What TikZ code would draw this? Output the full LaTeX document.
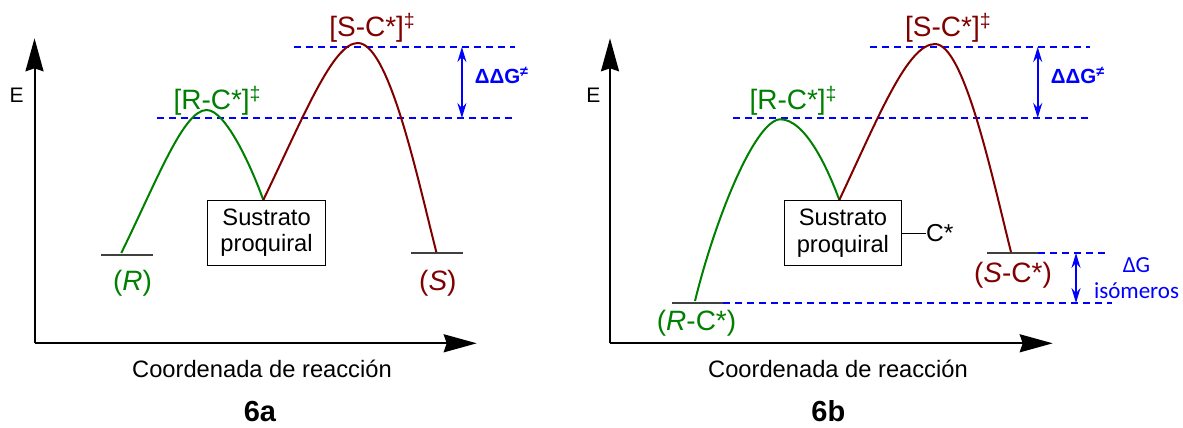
\documentclass[tikz,border=0pt]{standalone}
\usepackage{fontspec}
\setmainfont{Liberation Sans}
\newfontfamily\calfont{Carlito}
\usetikzlibrary{arrows.meta,positioning}
\definecolor{rgreen}{RGB}{0,128,0}
\definecolor{sred}{RGB}{128,0,0}
\definecolor{dblue}{RGB}{0,0,255}
\begin{document}
\begin{tikzpicture}[x=1pt,y=-1pt,
 ax/.style={line width=2pt,-{Stealth[length=33pt,width=18pt,inset=3pt]}},
 lvl/.style={line width=1.5pt,black!75},
 grc/.style={line width=2pt,rgreen},
 rdc/.style={line width=2pt,sred},
 dl/.style={draw=dblue,line width=1.4pt,dash pattern=on 7pt off 5pt},
 dd/.style={{Stealth[length=15pt,width=9pt,inset=5pt]}-{Stealth[length=15pt,width=9pt,inset=5pt]},line width=2pt,dblue},
 bx/.style={draw,line width=1.2pt,fill=white,align=center,minimum width=117.5pt,minimum height=65pt,inner sep=0pt,font=\fontsize{23.7}{26.7}\selectfont},
 lb/.style={anchor=base west,inner sep=0pt,font=\fontsize{28}{32}\selectfont},
 axl/.style={anchor=base west,inner sep=0pt,font=\fontsize{23.7}{27}\selectfont},
 el/.style={inner sep=0pt,font=\fontsize{21}{24}\selectfont},
 ttl/.style={anchor=base,inner sep=0pt,font=\fontsize{29}{32}\selectfont\bfseries},
 ddg/.style={anchor=base west,inner sep=0pt,text=dblue,font=\fontsize{20.5}{24}\selectfont\bfseries},
 dgl/.style={align=center,inner sep=0pt,text=dblue,font=\calfont\fontsize{23}{26.7}\selectfont}]
\useasboundingbox (0,0) rectangle (1183,428);
% 6a
\coordinate (aO) at (34.5,343.3);
\draw[ax] (aO) -- (34.5,38.3);
\draw[ax] (aO) -- (476.7,343.3);
\node[el] (aE) at (16.7,95) {E};
\node[axl] (axa) at (132,377) {Coordenada de reacción};
\node[ttl] (ta) at (260,421.5) {6a};
\coordinate (aR) at (121.3,253);
\coordinate (aTR) at (206.7,110);
\coordinate (aSub) at (263.3,200);
\coordinate (aTS) at (357.8,43);
\coordinate (aS) at (436.3,252);
\coordinate (aHi) at (461.9,47);
\coordinate (aLo) at (461.9,118);
\draw[dl] (294,47) -- (514.7,47);
\draw[dl] (157,118) -- (514.7,118);
\draw[dd] (aHi) -- (aLo);
\node[ddg] (ga) at (474.6,84) {ΔΔG\textsuperscript{≠}};
\draw[lvl] (101.4,255) -- (153.1,255);
\draw[lvl] (411.4,253) -- (463,253);
\draw[grc] (aR) .. controls (158,178) and (183.7,110) .. (aTR) .. controls (226.2,110) and (252.6,170) .. (aSub);
\draw[rdc] (aSub) .. controls (304.3,115) and (333,43) .. (aTS) .. controls (389.2,43) and (417.9,180) .. (aS);
\node[bx] (sa) at (266.6,232.8) {Sustrato\\proquiral};
\node[lb,text=rgreen] (ra) at (173.3,110) {[R-C*]\textsuperscript{‡}};
\node[lb,text=sred] (pa) at (329.1,37) {[S-C*]\textsuperscript{‡}};
\node[lb,text=rgreen] (rra) at (112.9,290) {(\textit{R})};
\node[lb,text=sred] (ssa) at (419,290) {(\textit{S})};
% 6b
\coordinate (bO) at (610,343.3);
\draw[ax] (bO) -- (610,38.3);
\draw[ax] (bO) -- (1052.7,343.3);
\node[el] (bE) at (593.3,95) {E};
\node[axl] (axb) at (708,377) {Coordenada de reacción};
\node[ttl] (tb) at (828.3,421.5) {6b};
\coordinate (bR) at (695,301);
\coordinate (bTR) at (780,119.3);
\coordinate (bSub) at (839.3,200);
\coordinate (bTS) at (935,44);
\coordinate (bS) at (1011,252);
\coordinate (bHi) at (1037.7,47);
\coordinate (bLo) at (1037.7,118);
\coordinate (iHi) at (1076,253);
\coordinate (iLo) at (1076,303);
\draw[dl] (870,47) -- (1090,47);
\draw[dl] (733.3,118) -- (1090,118);
\draw[dd] (bHi) -- (bLo);
\node[ddg] (gb) at (1050.7,84) {ΔΔG\textsuperscript{≠}};
\draw[dl] (1038.2,253) -- (1110,253);
\draw[dl] (723.3,303) -- (1111.7,303);
\draw[dd] (iHi) -- (iLo);
\node[dgl] (gi) at (1136.5,278) {ΔG\\isómeros};
\draw[lvl] (671.7,303) -- (723.3,303);
\draw[lvl] (987.1,253) -- (1038.2,253);
\draw[grc] (bR) .. controls (714.8,220) and (754.5,121) .. (bTR) .. controls (805.6,119) and (828.3,170) .. (bSub);
\draw[rdc] (bSub) .. controls (879.3,115) and (907.7,44) .. (bTS) .. controls (964.4,44) and (992.8,180) .. (bS);
\node[bx] (sb) at (842.9,233.2) {Sustrato\\proquiral};
\node[lb,font=\fontsize{24.5}{28}\selectfont] (cb) at (926,241.7) {C*};
\draw[line width=1.2pt] (sb.east) -- (cb.west |- sb.east);
\node[lb,text=rgreen] (rb) at (749.3,110) {[R-C*]\textsuperscript{‡}};
\node[lb,text=sred] (pb) at (905,37) {[S-C*]\textsuperscript{‡}};
\node[lb,text=rgreen] (rrb) at (656.7,330) {(\textit{R}-C*)};
\node[lb,text=sred] (ssb) at (973.9,282) {(\textit{S}-C*)};
\end{tikzpicture}
\end{document}
